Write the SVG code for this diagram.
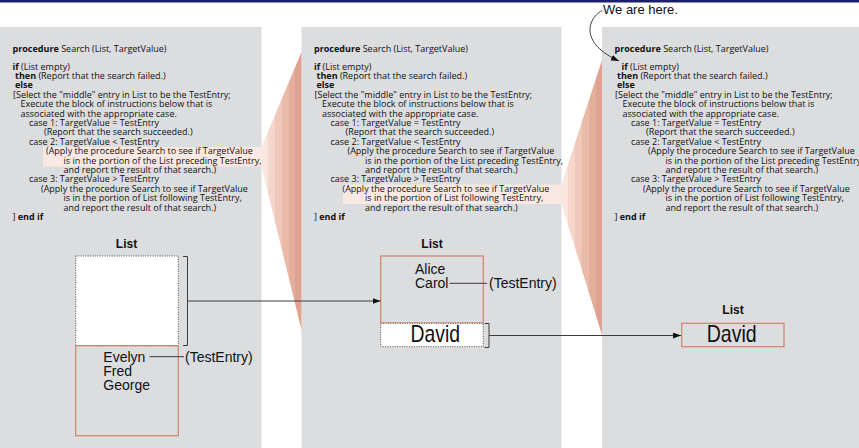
<svg xmlns="http://www.w3.org/2000/svg" width="859" height="448" viewBox="0 0 859 448">
  <style>
    .panel { fill: #dcdddf; }
    .hl { fill: #fae9e2; }
    .code { font-family: "Open Sans", "Noto Sans", sans-serif; font-size: 9px; fill: #111; }
    .b { font-weight: bold; }
    .lbl { font-family: "Liberation Sans", Arial, sans-serif; font-size: 12px; font-weight: bold; fill: #111; text-anchor: middle; }
    .name { font-family: "Liberation Sans", Arial, sans-serif; font-size: 14px; fill: #111; }
    .big { font-family: "Liberation Sans", Arial, sans-serif; font-size: 24px; fill: #111; text-anchor: middle; }
    .note { font-family: "Liberation Sans", Arial, sans-serif; font-size: 13px; fill: #111; }
    .entry { fill: none; stroke: #d4826e; stroke-width: 1.2; }
    .hole { fill: #fff; stroke: #222; stroke-width: 0.8; stroke-dasharray: 1 1.4; }
    .wire { fill: none; stroke: #3c3c3c; stroke-width: 1; }
    .fan { fill: url(#fanGrad); }
  </style>
  <defs>
    <linearGradient id="fanGrad" x1="0" y1="0" x2="1" y2="0">
      <stop offset="0" stop-color="#f9e6df"/>
      <stop offset="0.17" stop-color="#f9e6df"/>
      <stop offset="0.17" stop-color="#f4d6cb"/>
      <stop offset="0.34" stop-color="#f4d6cb"/>
      <stop offset="0.34" stop-color="#efc8ba"/>
      <stop offset="0.51" stop-color="#efc8ba"/>
      <stop offset="0.51" stop-color="#eabaa9"/>
      <stop offset="0.68" stop-color="#eabaa9"/>
      <stop offset="0.68" stop-color="#e5ad9b"/>
      <stop offset="0.85" stop-color="#e5ad9b"/>
      <stop offset="0.85" stop-color="#e0a290"/>
      <stop offset="1" stop-color="#e0a290"/>
    </linearGradient>
    <marker id="arrow" viewBox="0 0 8 6" refX="8" refY="3" markerWidth="8" markerHeight="6" markerUnits="userSpaceOnUse" orient="auto">
      <path d="M0,0 L8,3 L0,6 Z" fill="#111"/>
    </marker>
  </defs>

  <!-- top rule -->
  <rect x="0" y="0" width="859" height="2.5" fill="#1b1e6b"/>

  <!-- three snapshots of the procedure -->
  <rect class="panel" x="0" y="27" width="261.5" height="421"/>
  <rect class="panel" x="301.5" y="27" width="260" height="421"/>
  <rect class="panel" x="602" y="27" width="257" height="421"/>

  <!-- highlighted recursive calls and the fans leading to the next activation -->
  <rect class="hl" x="43" y="147" width="218.5" height="19.5"/>
  <rect class="hl" x="343" y="184.5" width="218.5" height="19.5"/>
  <polygon class="fan" points="261.5,147 301.5,52 301.5,330 261.5,166.5"/>
  <polygon class="fan" points="561.5,184.5 602,60 602,335 561.5,204"/>

  <!-- procedure text, first activation -->
  <g id="code-1">
    <text class="code">
      <tspan x="12.5" y="51.5"><tspan class="b">procedure</tspan> Search (List, TargetValue)</tspan>
      <tspan x="12.5" y="69.5"><tspan class="b">if</tspan> (List empty)</tspan>
      <tspan x="15" y="78.9"><tspan class="b">then</tspan> (Report that the search failed.)</tspan>
      <tspan x="15" y="88.3" class="b">else</tspan>
      <tspan x="13" y="97.7">[Select the "middle" entry in List to be the TestEntry;</tspan>
      <tspan x="20.5" y="107.1">Execute the block of instructions below that is</tspan>
      <tspan x="20.5" y="116.5">associated with the appropriate case.</tspan>
      <tspan x="29" y="125.9">case 1: TargetValue = TestEntry</tspan>
      <tspan x="44" y="135.3">(Report that the search succeeded.)</tspan>
      <tspan x="29" y="144.7">case 2: TargetValue &lt; TestEntry</tspan>
      <tspan x="46" y="154.1">(Apply the procedure Search to see if TargetValue</tspan>
      <tspan x="63.5" y="163.5">is in the portion of the List preceding TestEntry,</tspan>
      <tspan x="63.5" y="172.9">and report the result of that search.)</tspan>
      <tspan x="29" y="182.3">case 3: TargetValue &gt; TestEntry</tspan>
      <tspan x="41" y="191.7">(Apply the procedure Search to see if TargetValue</tspan>
      <tspan x="63.5" y="201.1">is in the portion of List following TestEntry,</tspan>
      <tspan x="63.5" y="210.5">and report the result of that search.)</tspan>
      <tspan x="12.5" y="219.9">] <tspan class="b">end if</tspan></tspan>
    </text>
  </g>

  <!-- procedure text, second activation -->
  <g id="code-2" transform="translate(301.5,0)">
    <text class="code">
      <tspan x="12.5" y="51.5"><tspan class="b">procedure</tspan> Search (List, TargetValue)</tspan>
      <tspan x="12.5" y="69.5"><tspan class="b">if</tspan> (List empty)</tspan>
      <tspan x="15" y="78.9"><tspan class="b">then</tspan> (Report that the search failed.)</tspan>
      <tspan x="15" y="88.3" class="b">else</tspan>
      <tspan x="13" y="97.7">[Select the "middle" entry in List to be the TestEntry;</tspan>
      <tspan x="20.5" y="107.1">Execute the block of instructions below that is</tspan>
      <tspan x="20.5" y="116.5">associated with the appropriate case.</tspan>
      <tspan x="29" y="125.9">case 1: TargetValue = TestEntry</tspan>
      <tspan x="44" y="135.3">(Report that the search succeeded.)</tspan>
      <tspan x="29" y="144.7">case 2: TargetValue &lt; TestEntry</tspan>
      <tspan x="46" y="154.1">(Apply the procedure Search to see if TargetValue</tspan>
      <tspan x="63.5" y="163.5">is in the portion of the List preceding TestEntry,</tspan>
      <tspan x="63.5" y="172.9">and report the result of that search.)</tspan>
      <tspan x="29" y="182.3">case 3: TargetValue &gt; TestEntry</tspan>
      <tspan x="41" y="191.7">(Apply the procedure Search to see if TargetValue</tspan>
      <tspan x="63.5" y="201.1">is in the portion of List following TestEntry,</tspan>
      <tspan x="63.5" y="210.5">and report the result of that search.)</tspan>
      <tspan x="12.5" y="219.9">] <tspan class="b">end if</tspan></tspan>
    </text>
  </g>

  <!-- procedure text, third activation -->
  <g id="code-3" transform="translate(602,0)">
    <text class="code">
      <tspan x="12.5" y="51.5"><tspan class="b">procedure</tspan> Search (List, TargetValue)</tspan>
      <tspan x="19.5" y="69.5"><tspan class="b">if</tspan> (List empty)</tspan>
      <tspan x="15" y="78.9"><tspan class="b">then</tspan> (Report that the search failed.)</tspan>
      <tspan x="15" y="88.3" class="b">else</tspan>
      <tspan x="13" y="97.7">[Select the "middle" entry in List to be the TestEntry;</tspan>
      <tspan x="20.5" y="107.1">Execute the block of instructions below that is</tspan>
      <tspan x="20.5" y="116.5">associated with the appropriate case.</tspan>
      <tspan x="29" y="125.9">case 1: TargetValue = TestEntry</tspan>
      <tspan x="44" y="135.3">(Report that the search succeeded.)</tspan>
      <tspan x="29" y="144.7">case 2: TargetValue &lt; TestEntry</tspan>
      <tspan x="46" y="154.1">(Apply the procedure Search to see if TargetValue</tspan>
      <tspan x="63.5" y="163.5">is in the portion of the List preceding TestEntry,</tspan>
      <tspan x="63.5" y="172.9">and report the result of that search.)</tspan>
      <tspan x="29" y="182.3">case 3: TargetValue &gt; TestEntry</tspan>
      <tspan x="41" y="191.7">(Apply the procedure Search to see if TargetValue</tspan>
      <tspan x="63.5" y="201.1">is in the portion of List following TestEntry,</tspan>
      <tspan x="63.5" y="210.5">and report the result of that search.)</tspan>
      <tspan x="12.5" y="219.9">] <tspan class="b">end if</tspan></tspan>
    </text>
  </g>

  <!-- list held by the first activation -->
  <g id="list-1">
    <text class="lbl" x="126.5" y="248">List</text>
    <rect class="hole" x="75.7" y="256" width="102.6" height="89.7"/>
    <rect class="entry" x="75.7" y="345.7" width="102.6" height="90"/>
    <text class="name" x="103.3" y="361.7">Evelyn<tspan x="103.3" dy="14">Fred</tspan><tspan x="103.3" dy="14">George</tspan></text>
    <line class="wire" x1="149.5" y1="356.7" x2="184" y2="356.7"/>
    <text class="name" x="185" y="361.7">(TestEntry)</text>
    <path class="wire" d="M183,256.5 H187.5 V345.5 H183"/>
  </g>

  <!-- list held by the second activation -->
  <g id="list-2">
    <text class="lbl" x="432" y="248">List</text>
    <rect class="entry" x="380.7" y="256" width="102.6" height="67"/>
    <rect class="hole" x="380.7" y="323.3" width="102.6" height="23.4"/>
    <text class="name" x="415" y="274.3">Alice<tspan x="415" dy="14">Carol</tspan></text>
    <line class="wire" x1="449.5" y1="283.3" x2="487" y2="283.3"/>
    <text class="name" x="489" y="288.3">(TestEntry)</text>
    <text class="big" x="435.3" y="342.3" textLength="49.5" lengthAdjust="spacingAndGlyphs">David</text>
    <path class="wire" d="M484.5,323.5 H489 V347.5 H484.5"/>
  </g>

  <!-- list held by the third activation -->
  <g id="list-3">
    <text class="lbl" x="733" y="314">List</text>
    <rect class="entry" x="681.7" y="323.3" width="102.3" height="23.4"/>
    <text class="big" x="731.7" y="342.3" textLength="50" lengthAdjust="spacingAndGlyphs">David</text>
  </g>

  <!-- pointer to the current position -->
  <g id="here">
    <text class="note" x="603" y="14">We are here.</text>
  </g>

  <g id="connectors">
    <path class="wire" d="M187.5,301 H380.5" marker-end="url(#arrow)"/>
    <path class="wire" d="M489,335.5 H681" marker-end="url(#arrow)"/>
    <path class="wire" d="M602,10.5 C586,20 581,44 619,61" marker-end="url(#arrow)"/>
  </g>
</svg>
